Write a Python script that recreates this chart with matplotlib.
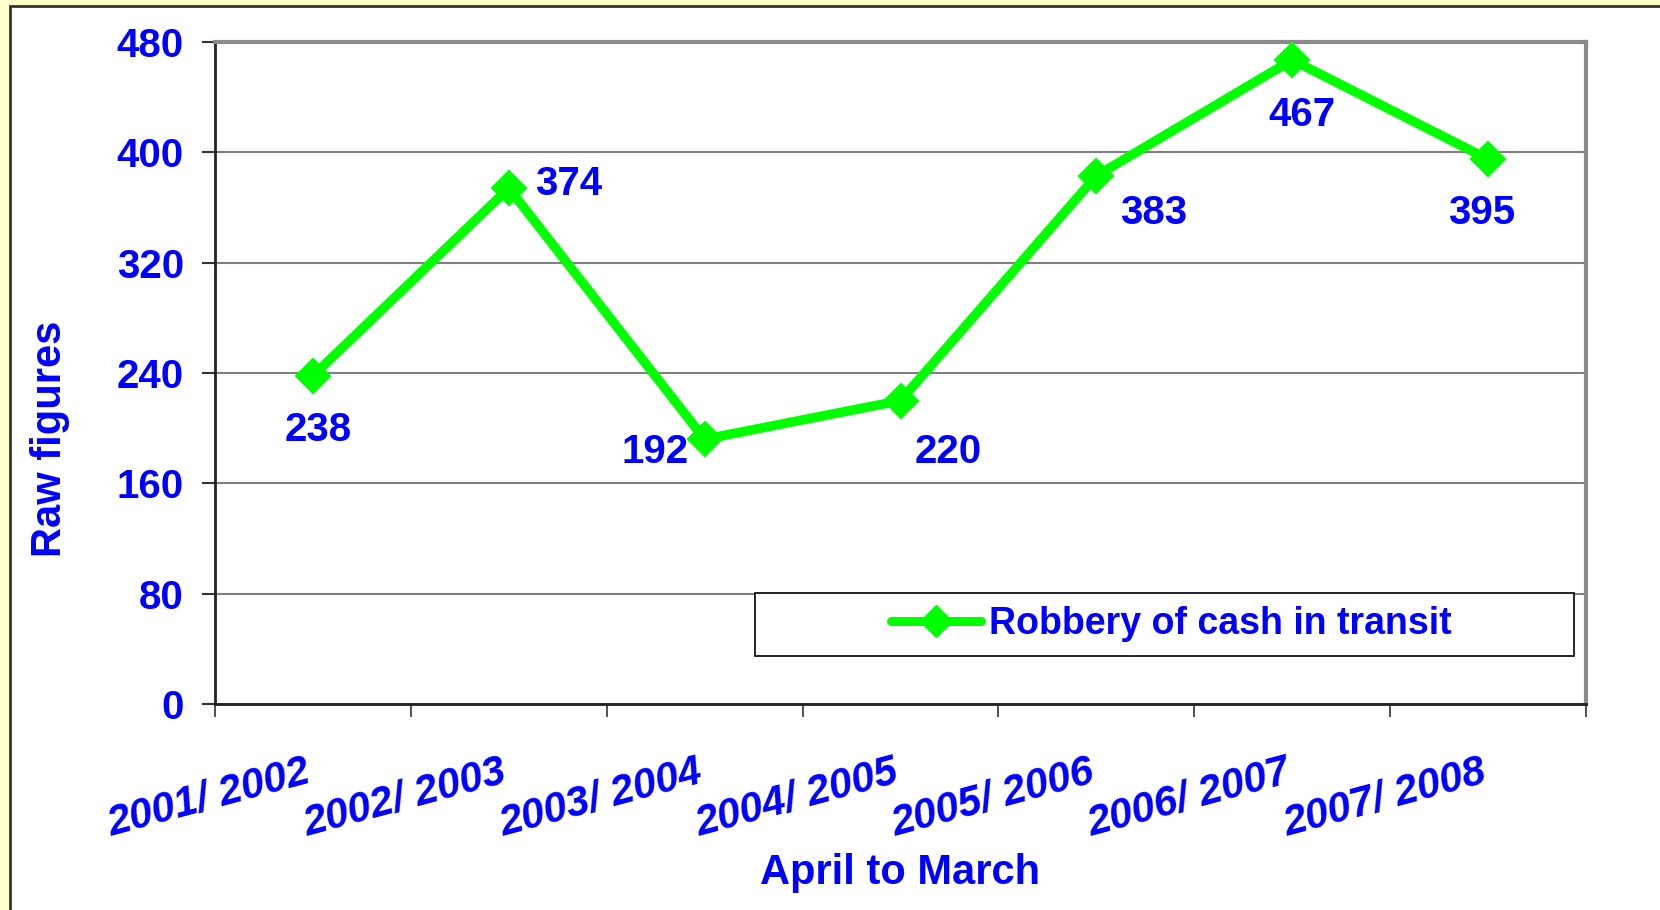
import matplotlib
matplotlib.use("Agg")
import matplotlib.pyplot as plt
from matplotlib.patches import Rectangle
from matplotlib.lines import Line2D
from matplotlib.transforms import ScaledTranslation

plt.rcParams['font.family'] = ['Liberation Sans', 'DejaVu Sans']

# ---- data ----
categories = ["2001/ 2002", "2002/ 2003", "2003/ 2004", "2004/ 2005",
              "2005/ 2006", "2006/ 2007", "2007/ 2008"]
robbery_cash_in_transit = [238, 374, 192, 220, 383, 467, 395]
series_name = "Robbery of cash in transit"
y_ticks = [0, 80, 160, 240, 320, 400, 480]
x_title = "April to March"
y_title = "Raw figures"

# label offsets (points) -- layout only
label_offsets = [(4, -39), (43, 3), (-36, -9), (34, -37), (41, -27), (7, -40), (-5, -39)]

BLUE = "#0000FF"
GREEN = "#00FF00"

fig = plt.figure(figsize=(16.6, 9.1), dpi=100)
fig.patch.set_facecolor("#FFFFCC")
fig.patches.append(Rectangle((10/1660, -0.1), 1.2, 1 - 6/910 + 0.1,
                             transform=fig.transFigure, facecolor="white",
                             edgecolor="#333333", lw=2, zorder=-5))

ax = fig.add_axes([215/1660, 1 - 704/910, (1586-215)/1660, (704-42)/910])
ax.set_facecolor("white")

x = list(range(len(categories)))
ax.plot(x, robbery_cash_in_transit, color=GREEN, lw=6.8, marker="D",
        markersize=17, markeredgewidth=1.5, markeredgecolor=GREEN,
        solid_joinstyle="miter", zorder=3, clip_on=False)

for xi, v, off in zip(x, robbery_cash_in_transit, label_offsets):
    ax.annotate(str(v), (xi, v), xytext=off, textcoords="offset points",
                ha="center", va="center", color=BLUE, fontsize=29,
                fontweight="bold", zorder=4)

ax.set_xlim(-0.5, len(categories) - 0.5)
ax.set_ylim(0, 480)
ax.set_yticks(y_ticks)
ax.set_yticklabels([str(t) for t in y_ticks])
ax.yaxis.grid(True, color="#808080", lw=1.5)
ax.set_axisbelow(True)

bounds = [i - 0.5 for i in range(len(categories) + 1)]
ax.set_xticks(bounds)
ax.set_xticklabels([""] * len(bounds))
ax.set_xticks(x, minor=True)
ax.set_xticklabels(categories, minor=True, rotation=15, ha="right",
                   rotation_mode="anchor", fontsize=30, fontweight="bold",
                   fontstyle="italic", color=BLUE)
ax.tick_params(axis="x", which="major", direction="out", length=9, width=1.2,
               color="#333333")
ax.tick_params(axis="x", which="minor", length=0, pad=35)
ax.tick_params(axis="y", direction="out", length=9.5, width=1.5,
               color="#333333", pad=13, labelsize=29, labelcolor=BLUE)
for lab in ax.get_yticklabels():
    lab.set_fontweight("bold")
shift = ScaledTranslation(-8/100, 0, fig.dpi_scale_trans)
for t in ax.xaxis.get_minor_ticks():
    t.label1.set_transform(t.label1.get_transform() + shift)

for s in ["left", "bottom"]:
    ax.spines[s].set_color("#222222")
    ax.spines[s].set_linewidth(2)
for s in ["top", "right"]:
    ax.spines[s].set_color("#8a8a8a")
    ax.spines[s].set_linewidth(3)

fig.text(50/1660, 1 - 439/910, y_title, rotation=90, ha="center", va="center",
         fontsize=30, fontweight="bold", color=BLUE)
fig.text(900/1660, 1 - 873/910, x_title, ha="center", va="center",
         fontsize=30, fontweight="bold", color=BLUE)

# legend box
fig.patches.append(Rectangle((755/1660, 1 - 656/910), (1574-755)/1660, (656-593)/910,
                             transform=fig.transFigure, facecolor="white",
                             edgecolor="black", lw=1.2, zorder=5))
handle = Line2D([], [], color=GREEN, lw=6.5, marker="D", markersize=16,
                solid_capstyle="round")
leg = fig.legend([handle], [series_name], loc="center",
                 bbox_to_anchor=((755+1574)/2/1660 + 7/1660, 1 - (593+656)/2/910),
                 frameon=False, handlelength=2.4, handletextpad=0.2,
                 prop={"size": 27, "weight": "bold"}, labelcolor=BLUE)
leg.set_zorder(6)

fig.savefig("out.png", dpi=100, facecolor=fig.get_facecolor())
